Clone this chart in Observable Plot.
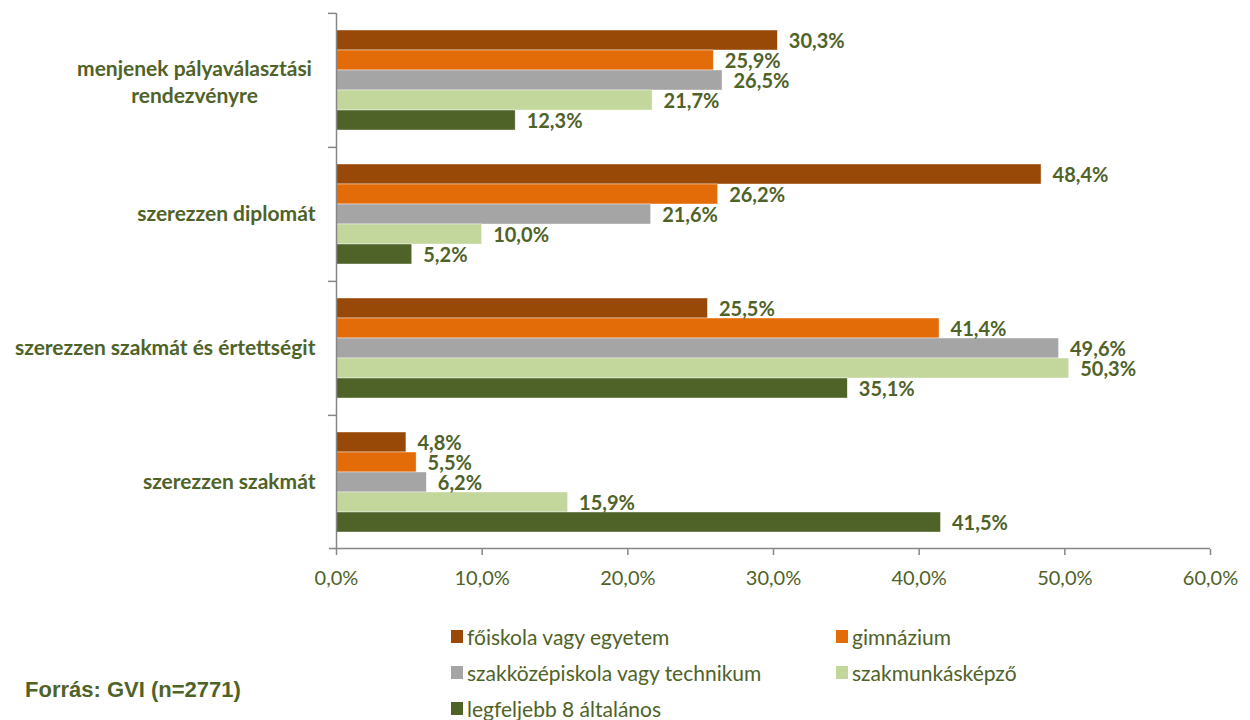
<!DOCTYPE html>
<html>
<head>
<meta charset="utf-8">
<script src="https://cdn.jsdelivr.net/npm/d3@7"></script>
<script src="https://cdn.jsdelivr.net/npm/@observablehq/plot@0.6"></script>
<style>
  html, body { margin: 0; padding: 0; background: #fff; }
  #wrap { position: relative; width: 1250px; height: 720px; font-family: Lato, sans-serif; }
  #legend { position: absolute; left: 0; top: 0; width: 1250px; height: 720px; pointer-events: none; }
  .li { position: absolute; display: flex; align-items: center; font-size: 21px; color: #4F6228; white-space: nowrap; }
  .sw { width: 12px; height: 13px; margin-right: 4px; flex: none; }
  #caption { position: absolute; left: 25px; top: 677px; font-family: "Liberation Sans", Arial, sans-serif; font-weight: bold; font-size: 22px; color: #4F6228; white-space: nowrap; }
</style>
</head>
<body>
<div id="wrap">
  <div id="chart"></div>
  <div id="legend"></div>
  <div id="caption">Forrás: GVI (n=2771)</div>
</div>
<script>
const categories = [
  "menjenek pályaválasztási\nrendezvényre",
  "szerezzen diplomát",
  "szerezzen szakmát és értettségit",
  "szerezzen szakmát"
];
const series = [
  "főiskola vagy egyetem",
  "gimnázium",
  "szakközépiskola vagy technikum",
  "szakmunkásképző",
  "legfeljebb 8 általános"
];
const colors = ["#984807", "#E36C09", "#A5A5A5", "#C3D69B", "#4F6228"];

const foiskola   = [30.3, 48.4, 25.5, 4.8];
const gimnazium  = [25.9, 26.2, 41.4, 5.5];
const szakkozep  = [26.5, 21.6, 49.6, 6.2];
const szakmunkas = [21.7, 10.0, 50.3, 15.9];
const altalanos  = [12.3, 5.2, 35.1, 41.5];

const xTicks = [0, 10, 20, 30, 40, 50, 60];

const seriesValues = [foiskola, gimnazium, szakkozep, szakmunkas, altalanos];
const data = series.flatMap((s, j) =>
  categories.map((c, i) => ({category: c, series: s, value: seriesValues[j][i]}))
);

const fmt = v => v.toFixed(1).replace(".", ",") + "%";
const green = "#4F6228";
const axisGray = "#868686";

const H = 600, mTop = 12, mBottom = 51;
const facetH = (H - mTop - mBottom) / categories.length;
const yPadOuter = 0.76;
const step = facetH / (series.length + 2 * yPadOuter);
const edgeOffset = step / 2 + step * yPadOuter; // from last band centre to facet bottom

const chart = Plot.plot({
  width: 1250,
  height: H,
  marginTop: mTop,
  marginBottom: mBottom,
  marginLeft: 336,
  marginRight: 40,
  style: {fontFamily: "Lato, sans-serif", background: "#fff"},
  x: {domain: [0, 60], axis: null},
  y: {domain: series, paddingInner: 0, paddingOuter: yPadOuter, axis: null},
  fy: {domain: categories, padding: 0, axis: null},
  color: {domain: series, range: colors},
  marks: [
    Plot.barX(data, {x: "value", y: "series", fy: "category", fill: "series", stroke: "#ffffff", strokeWidth: 0.6, strokeOpacity: 0.7}),
    Plot.text(data, {
      x: "value", y: "series", fy: "category",
      text: d => fmt(d.value),
      textAnchor: "start", dx: 11, dy: 1.5,
      fill: green, fontWeight: "bold", fontSize: 20
    }),
    Plot.ruleX([0], {stroke: axisGray, strokeWidth: 1.5}),
    Plot.ruleY([categories[categories.length - 1]], {
      fy: d => d, y: () => series[series.length - 1], dy: edgeOffset,
      stroke: axisGray, strokeWidth: 1.5, insetLeft: -7
    }),
    Plot.axisFy({anchor: "left", tickSize: 8, tickFormat: () => "", dy: -facetH / 2, stroke: axisGray, strokeWidth: 1.5, label: null}),
    Plot.text(categories.slice(1), {
      fy: d => d, text: d => d, frameAnchor: "left", textAnchor: "end", dx: -21,
      fill: green, fontWeight: "bold", fontSize: 21
    }),
    Plot.text(categories.slice(0, 1), {
      fy: d => d, text: d => d, frameAnchor: "left", textAnchor: "middle", dx: -142,
      lineHeight: 1.29, fill: green, fontWeight: "bold", fontSize: 21
    }),
    Plot.axisX({
      ticks: xTicks, tickFormat: fmt, tickSize: 6, tickPadding: 15,
      stroke: axisGray, strokeWidth: 1.5, fill: green, fontSize: 20, label: null
    })
  ]
});
document.getElementById("chart").appendChild(chart);

// legend
const legendPos = [
  {x: 451, y: 636}, {x: 836, y: 636},
  {x: 451, y: 672}, {x: 836, y: 672},
  {x: 451, y: 708}
];
const legend = document.getElementById("legend");
series.forEach((s, i) => {
  const el = document.createElement("div");
  el.className = "li";
  el.style.left = legendPos[i].x + "px";
  el.style.top = (legendPos[i].y - 13) + "px";
  el.style.height = "26px";
  const sw = document.createElement("span");
  sw.className = "sw";
  sw.style.background = colors[i];
  const t = document.createElement("span");
  t.textContent = s;
  el.appendChild(sw);
  el.appendChild(t);
  legend.appendChild(el);
});
</script>
</body>
</html>
